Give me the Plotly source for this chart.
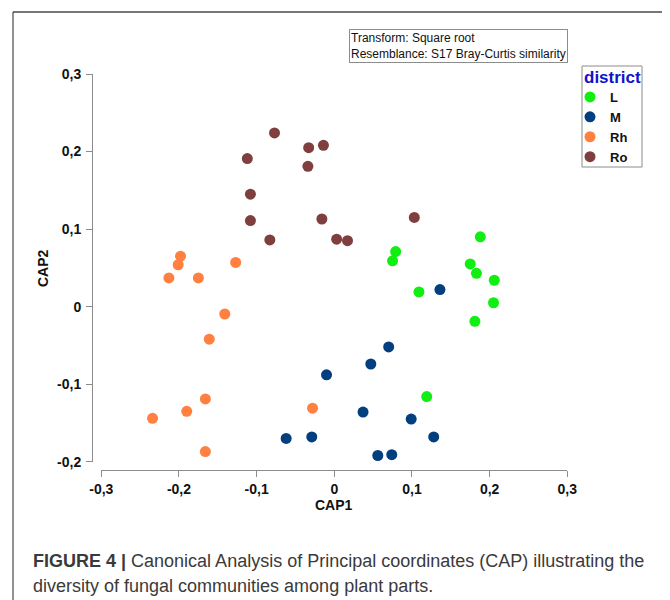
import plotly.graph_objects as go

# ---- data ----
L_x = [0.188, 0.079, 0.075, 0.175, 0.183, 0.206, 0.109, 0.205, 0.181, 0.119]
L_y = [0.090, 0.071, 0.059, 0.055, 0.043, 0.034, 0.019, 0.005, -0.019, -0.116]

M_x = [0.136, 0.070, 0.047, -0.010, 0.037, 0.099, -0.062, -0.029, 0.128, -0.008, 0.056, 0.074]
M_y = [0.022, -0.052, -0.074, -0.088, -0.136, -0.145, -0.170, -0.168, -0.168, -0.201, -0.192, -0.191]

Rh_x = [-0.198, -0.201, -0.213, -0.175, -0.127, -0.141, -0.161, -0.166, -0.190, -0.234, -0.166, -0.028]
Rh_y = [0.065, 0.054, 0.037, 0.037, 0.057, -0.0095, -0.042, -0.119, -0.135, -0.144, -0.187, -0.131]

Ro_x = [-0.077, -0.112, -0.108, -0.108, -0.083, -0.033, -0.014, -0.034, -0.016, 0.103, 0.003, 0.017]
Ro_y = [0.224, 0.191, 0.145, 0.111, 0.086, 0.205, 0.208, 0.181, 0.113, 0.115, 0.087, 0.085]

groups = ["L", "M", "Rh", "Ro"]
colors = ["#11EE11", "#023F7F", "#FF8040", "#7F3F3F"]
xs = [L_x, M_x, Rh_x, Ro_x]
ys = [L_y, M_y, Rh_y, Ro_y]

x_ticks = [-0.3, -0.2, -0.1, 0, 0.1, 0.2, 0.3]
x_ticktext = ["-0,3", "-0,2", "-0,1", "0", "0,1", "0,2", "0,3"]
y_ticks = [-0.2, -0.1, 0, 0.1, 0.2, 0.3]
y_ticktext = ["-0,2", "-0,1", "0", "0,1", "0,2", "0,3"]

# page body has an 8px margin; map reference pixel positions into the figure
OFF = 8
W, H = 670 - OFF, 600 - OFF
def px(x):
    return (x - OFF) / W
def py(y):
    return 1 - (y - OFF) / H

FONT = "Arial, Liberation Sans, sans-serif"

fig = go.Figure()
for g, c, x, y in zip(groups, colors, xs, ys):
    fig.add_trace(go.Scatter(
        x=x, y=y, mode="markers", name=g,
        marker=dict(color=c, size=11, line=dict(width=0)),
        cliponaxis=False,
    ))

axis_common = dict(
    showgrid=False, zeroline=False, showline=True, linecolor="#8c8c8c", linewidth=1,
    ticks="outside", ticklen=6, tickcolor="#8c8c8c", tickwidth=1,
    tickfont=dict(family=FONT, size=14, color="#111", weight="bold"),
    anchor="free", automargin=False, tickmode="array",
)

fig.update_layout(
    width=W, height=H,
    margin=dict(l=0, r=0, t=0, b=0),
    paper_bgcolor="white", plot_bgcolor="white",
    template="none",
    xaxis=dict(axis_common, range=[-0.3, 0.3], domain=[px(101.3), px(567.3)],
               position=py(470), tickvals=x_ticks, ticktext=x_ticktext),
    yaxis=dict(axis_common, range=[-0.2, 0.3], domain=[py(461.7), py(74)],
               position=px(92), tickvals=y_ticks, ticktext=y_ticktext, ticklabelstandoff=2),
    legend=dict(
        x=px(570), y=py(82), xanchor="left", yanchor="top",
        borderwidth=0, bgcolor="rgba(0,0,0,0)",
        font=dict(family=FONT, size=13, color="#111", weight="bold"),
        itemwidth=30, tracegroupgap=0,
    ),
    showlegend=True,
)

# legend frame and title
fig.add_shape(type="rect", xref="paper", yref="paper", x0=px(582), x1=px(642), y0=py(167), y1=py(66),
              line=dict(color="#8c8c8c", width=1), fillcolor="rgba(0,0,0,0)")
fig.add_annotation(text="district", x=px(612), y=py(77), xref="paper", yref="paper",
                   xanchor="center", yanchor="middle", showarrow=False,
                   font=dict(family=FONT, size=17, color="#1212CC", weight="bold"))

# axis titles
fig.add_annotation(text="CAP1", x=px(334), y=py(505), xref="paper", yref="paper",
                   xanchor="center", yanchor="middle",
                   showarrow=False, font=dict(family=FONT, size=14, color="#111", weight="bold"))
fig.add_annotation(text="CAP2", x=px(43), y=py(268), xref="paper", yref="paper", textangle=-90,
                   xanchor="center", yanchor="middle",
                   showarrow=False, font=dict(family=FONT, size=14, color="#111", weight="bold"))

# transform / resemblance box
fig.add_annotation(
    text="Transform: Square root<br>Resemblance: S17 Bray-Curtis similarity",
    x=px(349), y=py(29), xref="paper", yref="paper", xanchor="left", yanchor="top",
    align="left", showarrow=False, bordercolor="#8c8c8c", borderwidth=1, borderpad=1,
    bgcolor="white", font=dict(family=FONT, size=12, color="#111"),
)

# caption
fig.add_annotation(
    text="<b>FIGURE 4 |</b> Canonical Analysis of Principal coordinates (CAP) illustrating the",
    x=px(31), y=py(561), xref="paper", yref="paper", xanchor="left", yanchor="middle",
    showarrow=False, font=dict(family=FONT, size=18, color="#3a3a3a"),
)
fig.add_annotation(
    text="diversity of fungal communities among plant parts.",
    x=px(31), y=py(586), xref="paper", yref="paper", xanchor="left", yanchor="middle",
    showarrow=False, font=dict(family=FONT, size=18, color="#3a3a3a"),
)

# frame lines
fig.add_shape(type="line", xref="paper", yref="paper", x0=px(13), x1=1, y0=py(12), y1=py(12),
              line=dict(color="#777777", width=2))
fig.add_shape(type="line", xref="paper", yref="paper", x0=px(13), x1=px(13), y0=py(12), y1=0,
              line=dict(color="#222222", width=1))

fig.write_html("out.html")
